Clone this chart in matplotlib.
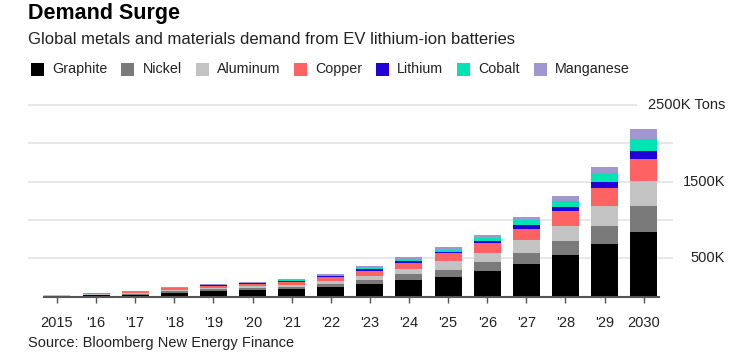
import numpy as np
import matplotlib
matplotlib.use("Agg")
import matplotlib.pyplot as plt
from matplotlib.patches import Rectangle
from matplotlib.transforms import blended_transform_factory

plt.rcParams['font.family'] = ['Liberation Sans', 'DejaVu Sans']

## donnees (milliers de tonnes)
years = ['2015', "'16", "'17", "'18", "'19", "'20", "'21", "'22", "'23", "'24",
         "'25", "'26", "'27", "'28", "'29", '2030']
graphite = [8, 16, 25, 48, 72, 86, 96, 122, 161, 217, 260, 340, 430, 539, 682, 846]
nickel = [5, 8, 12, 20, 24, 28, 32, 42, 56, 75, 92, 113, 143, 190, 238, 335]
aluminum = [4, 7, 12, 18, 20, 25, 30, 40, 53, 73, 109, 119, 169, 196, 261, 330]
copper = [3, 12, 14, 22, 25, 30, 38, 50, 69, 78, 104, 122, 143, 195, 234, 291]
lithium = [1, 2, 3, 4, 6, 8, 10, 14, 18, 22, 22, 30, 49, 52, 79, 99]
cobalt = [1, 2, 5, 6, 8, 8, 12, 14, 17, 26, 24, 40, 61, 78, 117, 156]
manganese = [1, 1, 3, 4, 6, 6, 8, 16, 20, 22, 32, 44, 47, 61, 78, 136]

series = [('Graphite', graphite, '#000000'),
          ('Nickel', nickel, '#7a7a7a'),
          ('Aluminum', aluminum, '#c3c3c3'),
          ('Copper', copper, '#ff6262'),
          ('Lithium', lithium, '#2200d8'),
          ('Cobalt', cobalt, '#00e3b3'),
          ('Manganese', manganese, '#a197d0')]

gridvals = [500, 1000, 1500, 2000, 2500]
ylabels = {500: '500K', 1500: '1500K', 2500: '2500K Tons'}

W, H = 738, 353
fig = plt.figure(figsize=(W / 100, H / 100), dpi=100)

# axes : x de 28px a 673px, base a 296.7px, 2500K a 105px
ax = fig.add_axes([28 / W, 1 - 296.7 / H, (673 - 28) / W, (296.7 - 105) / H])
x = np.arange(len(years))
ax.set_xlim(-0.74, 15.75)
ax.set_ylim(0, 2500)

# grille
for v in gridvals:
    xmax = 14.83 if v == 2500 else 15.75
    ax.hlines(v, -0.74, xmax, color='#e3e3e3', lw=1.2, zorder=0, clip_on=False)

# barres empilees
bottom = np.zeros(len(years))
for name, vals, col in series:
    vals = np.array(vals, dtype=float)
    ax.bar(x, vals, width=0.69, bottom=bottom, color=col, linewidth=0, zorder=2)
    bottom += vals

# ligne de base
ax.hlines(0, -0.36, 15.42, color='#555555', lw=1.5, zorder=3, clip_on=False)

for s in ax.spines.values():
    s.set_visible(False)
ax.set_yticks([])
ax.set_xticks(x)
ax.set_xticklabels(years, fontsize=10.5, color='#222222')
ax.tick_params(axis='x', length=4, width=1, color='#555555', pad=10)

# etiquettes a droite (alignees a droite)
tr = blended_transform_factory(fig.transFigure, ax.transData)
for v, lab in ylabels.items():
    ax.text(725 / W, v, lab, transform=tr, fontsize=10.5, color='#222222',
            ha='right', va='center')

# titres
fig.text(28 / W, 1 - 13 / H, 'Demand Surge', fontsize=15.5, fontweight='bold',
         ha='left', va='center', color='#000000')
fig.text(28 / W, 1 - 40 / H, 'Global metals and materials demand from EV lithium-ion batteries',
         fontsize=12, ha='left', va='center', color='#222222')
fig.text(28 / W, 1 - 343 / H, 'Source: Bloomberg New Energy Finance',
         fontsize=10.5, ha='left', va='center', color='#222222')

# legende manuelle
fig.canvas.draw()
renderer = fig.canvas.get_renderer()
px = 31
ly = 69
for name, vals, col in series:
    fig.add_artist(Rectangle((px / W, 1 - (ly + 6.5) / H), 13 / W, 13 / H,
                             transform=fig.transFigure, facecolor=col, edgecolor='none'))
    t = fig.text((px + 21) / W, 1 - ly / H, name, fontsize=10.3, ha='left',
                 va='center', color='#222222')
    w = t.get_window_extent(renderer).width
    px = px + 21 + w + 14

fig.savefig('out.png', dpi=100)
